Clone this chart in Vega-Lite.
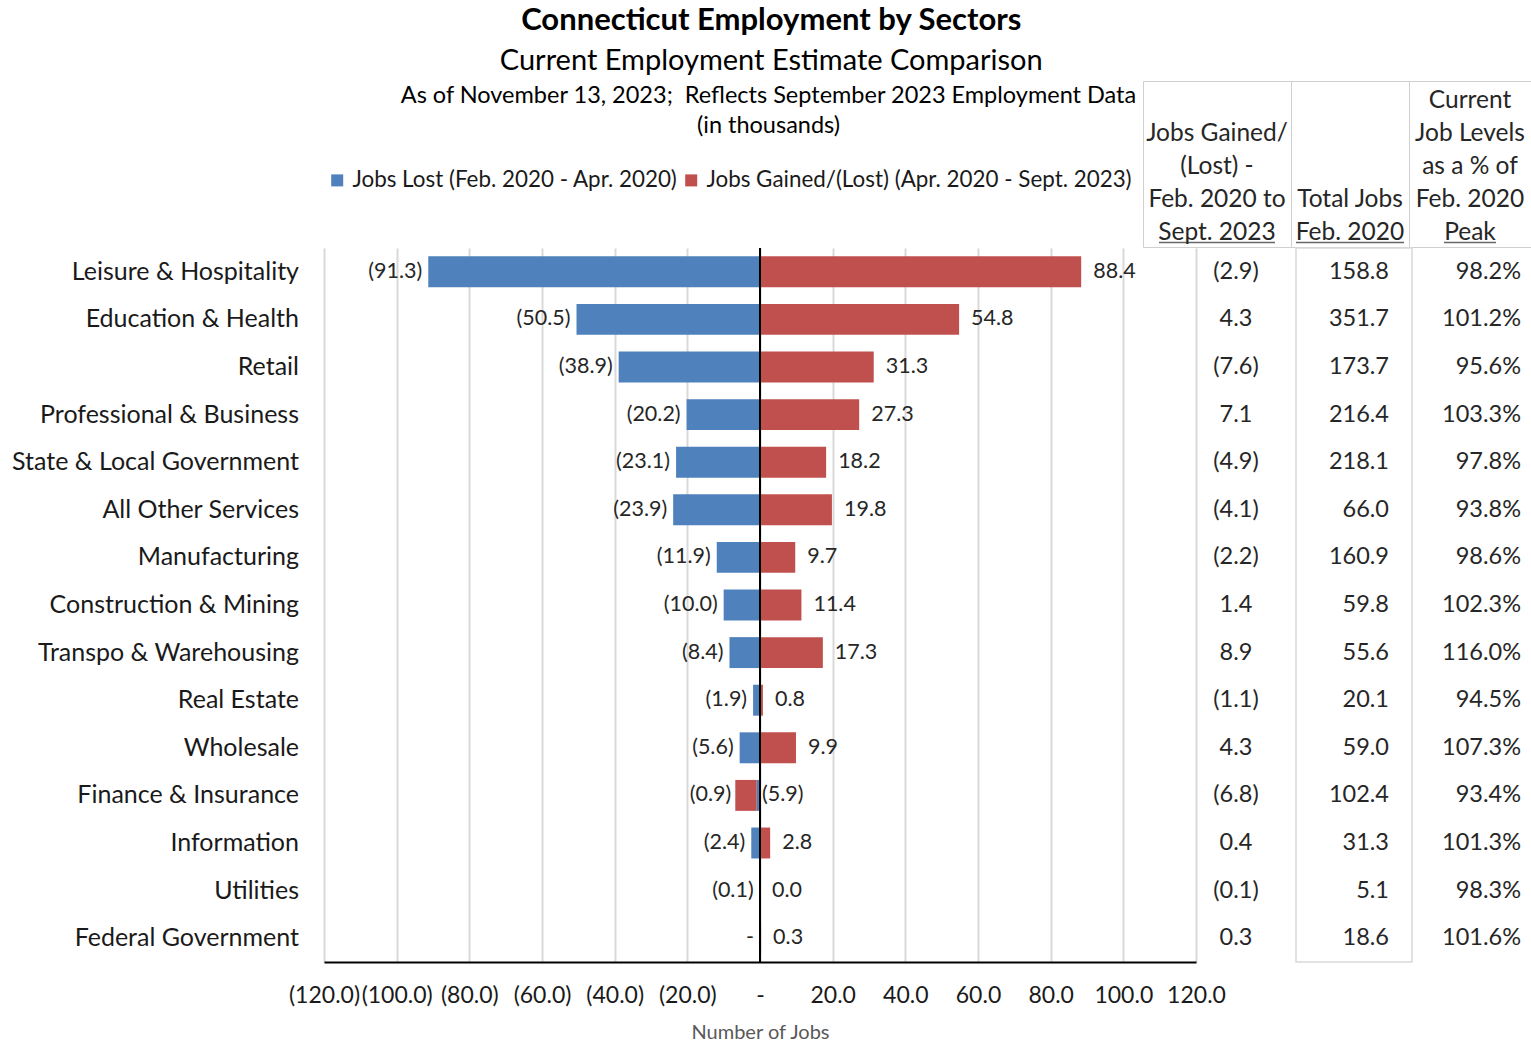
{
  "$schema": "https://vega.github.io/schema/vega-lite/v6.json",
  "background": "white",
  "padding": {"left": 11, "top": 5, "right": 0, "bottom": 0},
  "config": {
    "font": "Lato",
    "view": {"stroke": null},
    "text": {"font": "Lato", "color": "#262626"},
    "axis": {"labelFont": "Lato", "titleFont": "Lato"},
    "legend": {"labelFont": "Lato"},
    "title": {"font": "Lato", "subtitleFont": "Lato"}
  },
  "title": {
    "text": "Connecticut Employment by Sectors",
    "subtitle": "Current Employment Estimate Comparison",
    "fontSize": 31,
    "fontWeight": "bold",
    "color": "#000000",
    "subtitleFontSize": 29,
    "subtitleColor": "#000000",
    "subtitlePadding": 9.5,
    "anchor": "middle",
    "offset": 4
  },
  "datasets": {
    "sectors": [
      {"sector": "Leisure & Hospitality", "lost": -91.3, "gained": 88.4, "net": -2.9, "total": 158.8, "pct": 0.982},
      {"sector": "Education & Health", "lost": -50.5, "gained": 54.8, "net": 4.3, "total": 351.7, "pct": 1.012},
      {"sector": "Retail", "lost": -38.9, "gained": 31.3, "net": -7.6, "total": 173.7, "pct": 0.956},
      {"sector": "Professional & Business", "lost": -20.2, "gained": 27.3, "net": 7.1, "total": 216.4, "pct": 1.033},
      {"sector": "State & Local Government", "lost": -23.1, "gained": 18.2, "net": -4.9, "total": 218.1, "pct": 0.978},
      {"sector": "All Other Services", "lost": -23.9, "gained": 19.8, "net": -4.1, "total": 66.0, "pct": 0.938},
      {"sector": "Manufacturing", "lost": -11.9, "gained": 9.7, "net": -2.2, "total": 160.9, "pct": 0.986},
      {"sector": "Construction & Mining", "lost": -10.0, "gained": 11.4, "net": 1.4, "total": 59.8, "pct": 1.023},
      {"sector": "Transpo & Warehousing", "lost": -8.4, "gained": 17.3, "net": 8.9, "total": 55.6, "pct": 1.160},
      {"sector": "Real Estate", "lost": -1.9, "gained": 0.8, "net": -1.1, "total": 20.1, "pct": 0.945},
      {"sector": "Wholesale", "lost": -5.6, "gained": 9.9, "net": 4.3, "total": 59.0, "pct": 1.073},
      {"sector": "Finance & Insurance", "lost": -0.9, "gained": -5.9, "net": -6.8, "total": 102.4, "pct": 0.934},
      {"sector": "Information", "lost": -2.4, "gained": 2.8, "net": 0.4, "total": 31.3, "pct": 1.013},
      {"sector": "Utilities", "lost": -0.1, "gained": 0.0, "net": -0.1, "total": 5.1, "pct": 0.983},
      {"sector": "Federal Government", "lost": 0, "gained": 0.3, "net": 0.3, "total": 18.6, "pct": 1.016}
    ],
    "header": [
      {"col": "c1", "line": 2, "text": "Jobs Gained/"},
      {"col": "c1", "line": 3, "text": "(Lost) -"},
      {"col": "c1", "line": 4, "text": "Feb. 2020 to"},
      {"col": "c1", "line": 5, "text": "Sept. 2023"},
      {"col": "c2", "line": 4, "text": "Total Jobs"},
      {"col": "c2", "line": 5, "text": "Feb. 2020"},
      {"col": "c3", "line": 1, "text": "Current"},
      {"col": "c3", "line": 2, "text": "Job Levels"},
      {"col": "c3", "line": 3, "text": "as a % of"},
      {"col": "c3", "line": 4, "text": "Feb. 2020"},
      {"col": "c3", "line": 5, "text": "Peak"}
    ],
    "series": [
      {"series": "lost"},
      {"series": "gained"}
    ]
  },
  "resolve": {"scale": {"color": "independent"}, "legend": {"color": "independent"}},
  "bounds": "full",
  "spacing": -1,
  "vconcat": [
    {
      "hconcat": [
        {
          "width": 313,
          "height": 166,
          "data": {"values": []},
          "mark": {"type": "text"},
          "encoding": {"text": {"value": ""}}
        },
        {
          "width": 819,
          "height": 166,
          "data": {"name": "series"},
          "title": {
            "text": ["As of November 13, 2023;\u00a0 Reflects September 2023 Employment Data", "(in thousands)"],
            "fontSize": 23.5,
            "fontWeight": "normal",
            "lineHeight": 30,
            "color": "#000000",
            "anchor": "middle",
            "frame": "group",
            "dx": 35,
            "offset": -56
          },
          "mark": {"type": "square", "opacity": 0},
          "encoding": {
            "color": {
              "field": "series", "type": "nominal",
              "scale": {"domain": ["lost", "gained"], "range": ["#4F81BD", "#C0504D"]},
              "legend": {
                "orient": "bottom",
                "direction": "horizontal",
                "title": null,
                "labelExpr": "datum.label == 'lost' ? 'Jobs Lost (Feb. 2020 - Apr. 2020)' : 'Jobs Gained/(Lost) (Apr. 2020 - Sept. 2023)'",
                "labelFontSize": 22.4,
                "labelColor": "#1a1a1a",
                "labelLimit": 700,
                "symbolType": "square",
                "symbolSize": 144,
                "symbolOpacity": 1,
                "symbolStrokeWidth": 0,
                "labelOffset": 4,
                "columnPadding": 2,
                "padding": 2,
                "offset": -80
              }
            }
          }
        },
        {
          "width": 148,
          "height": 166,
          "view": {"stroke": "#d0d0d0", "strokeWidth": 1},
          "data": {"name": "header"},
          "transform": [{"filter": "datum.col == 'c1'"}],
          "encoding": {
            "y": {"field": "line", "type": "ordinal", "scale": {"domain": [1, 2, 3, 4, 5], "paddingInner": 0, "paddingOuter": 0}, "axis": null}
          },
          "layer": [
            {
              "mark": {"type": "text", "fontSize": 24.5, "baseline": "middle", "dy": 3},
              "encoding": {"text": {"field": "text"}}
            },
            {
              "transform": [{"filter": "datum.line == 5"}],
              "mark": {"type": "tick", "orient": "horizontal", "size": 116, "thickness": 1.5, "color": "#262626", "yOffset": 12}
            }
          ]
        },
        {
          "width": 118,
          "height": 166,
          "view": {"stroke": "#d0d0d0", "strokeWidth": 1},
          "data": {"name": "header"},
          "transform": [{"filter": "datum.col == 'c2'"}],
          "encoding": {
            "y": {"field": "line", "type": "ordinal", "scale": {"domain": [1, 2, 3, 4, 5], "paddingInner": 0, "paddingOuter": 0}, "axis": null}
          },
          "layer": [
            {
              "mark": {"type": "text", "fontSize": 24.5, "baseline": "middle", "dy": 3},
              "encoding": {"text": {"field": "text"}}
            },
            {
              "transform": [{"filter": "datum.line == 5"}],
              "mark": {"type": "tick", "orient": "horizontal", "size": 108, "thickness": 1.5, "color": "#262626", "yOffset": 12}
            }
          ]
        },
        {
          "width": 122,
          "height": 166,
          "view": {"stroke": "#d0d0d0", "strokeWidth": 1},
          "data": {"name": "header"},
          "transform": [{"filter": "datum.col == 'c3'"}],
          "encoding": {
            "y": {"field": "line", "type": "ordinal", "scale": {"domain": [1, 2, 3, 4, 5], "paddingInner": 0, "paddingOuter": 0}, "axis": null}
          },
          "layer": [
            {
              "mark": {"type": "text", "fontSize": 24.5, "baseline": "middle", "dy": 3},
              "encoding": {"text": {"field": "text"}}
            },
            {
              "transform": [{"filter": "datum.line == 5"}],
              "mark": {"type": "tick", "orient": "horizontal", "size": 52, "thickness": 1.5, "color": "#262626", "yOffset": 12}
            }
          ]
        }
      ],
      "bounds": "flush",
      "spacing": 0,
      "resolve": {"scale": {"color": "independent"}, "legend": {"color": "independent"}}
    },
    {
      "hconcat": [
        {
          "width": 313,
          "height": 714,
          "data": {"name": "sectors"},
          "mark": {"type": "text", "align": "right", "baseline": "middle", "fontSize": 25, "dx": -25, "color": "#1a1a1a"},
          "encoding": {
            "y": {"field": "sector", "type": "nominal", "sort": null, "scale": {"paddingInner": 0.35, "paddingOuter": 0.175}, "axis": null},
            "x": {"value": "width"},
            "text": {"field": "sector"}
          }
        },
        {
          "width": 872,
          "height": 714,
          "data": {"name": "sectors"},
          "layer": [
            {
              "transform": [{"fold": ["lost", "gained"], "as": ["series", "value"]}],
              "mark": {"type": "bar"},
              "encoding": {
                "y": {"field": "sector", "type": "nominal", "sort": null, "scale": {"paddingInner": 0.35, "paddingOuter": 0.175}, "axis": null},
                "x": {
                  "field": "value", "type": "quantitative",
                  "scale": {"domain": [-120, 120], "nice": false, "zero": false},
                  "axis": {
                    "values": [-120, -100, -80, -60, -40, -20, 0, 20, 40, 60, 80, 100, 120],
                    "labelExpr": "datum.value < 0 ? '(' + format(-datum.value, '.1f') + ')' : (datum.value == 0 ? '-' : format(datum.value, '.1f'))",
                    "labelFontSize": 23,
                    "labelColor": "#1a1a1a",
                    "labelOverlap": false,
                    "labelFlush": false,
                    "labelPadding": 22,
                    "ticks": false,
                    "domainColor": "#000000",
                    "domainWidth": 2,
                    "grid": true,
                    "gridColor": "#d9d9d9",
                    "gridWidth": 2,
                    "title": "Number of Jobs",
                    "titleFontSize": 20,
                    "titleFontWeight": "normal",
                    "titleColor": "#595959",
                    "titlePadding": 15
                  }
                },
                "color": {
                  "field": "series", "type": "nominal",
                  "scale": {"domain": ["lost", "gained"], "range": ["#4F81BD", "#C0504D"]},
                  "legend": null
                },
                "order": {"field": "series", "sort": "descending"}
              }
            },
            {
              "data": {"values": [{"zero": 0}]},
              "mark": {"type": "rule", "color": "#000000", "strokeWidth": 2},
              "encoding": {"x": {"field": "zero", "type": "quantitative"}}
            },
            {
              "transform": [{"filter": "datum.gained >= 0"}],
              "mark": {"type": "text", "align": "right", "baseline": "middle", "dx": -6, "fontSize": 21.5},
              "encoding": {
                "y": {"field": "sector", "type": "nominal", "sort": null},
                "x": {"field": "lost", "type": "quantitative"},
                "text": {"condition": {"test": "datum.lost == 0", "value": "-\u00a0\u00a0\u00a0\u00a0"}, "field": "lost", "format": "(.1f"}
              }
            },
            {
              "transform": [{"filter": "datum.gained < 0"}],
              "mark": {"type": "text", "align": "right", "baseline": "middle", "dx": -4, "fontSize": 21.5},
              "encoding": {
                "y": {"field": "sector", "type": "nominal", "sort": null},
                "x": {"field": "net", "type": "quantitative"},
                "text": {"field": "lost", "format": "(.1f"}
              }
            },
            {
              "transform": [{"filter": "datum.gained >= 0"}],
              "mark": {"type": "text", "align": "left", "baseline": "middle", "dx": 12, "fontSize": 21.5},
              "encoding": {
                "y": {"field": "sector", "type": "nominal", "sort": null},
                "x": {"field": "gained", "type": "quantitative"},
                "text": {"field": "gained", "format": "(.1f"}
              }
            },
            {
              "transform": [{"filter": "datum.gained < 0"}],
              "mark": {"type": "text", "align": "left", "baseline": "middle", "dx": 2, "fontSize": 21.5},
              "encoding": {
                "y": {"field": "sector", "type": "nominal", "sort": null},
                "x": {"datum": 0, "type": "quantitative"},
                "text": {"field": "gained", "format": "(.1f"}
              }
            }
          ]
        },
        {
          "width": 100,
          "height": 714,
          "data": {"name": "sectors"},
          "mark": {"type": "text", "fontSize": 23.5, "baseline": "middle", "dx": -10},
          "encoding": {
            "y": {"field": "sector", "type": "nominal", "sort": null, "scale": {"paddingInner": 0.35, "paddingOuter": 0.175}, "axis": null},
            "text": {"field": "net", "format": "(.1f"}
          }
        },
        {
          "width": 116,
          "height": 714,
          "view": {"stroke": "#d9d9d9", "strokeWidth": 1.5},
          "data": {"name": "sectors"},
          "mark": {"type": "text", "fontSize": 23.5, "baseline": "middle", "align": "right", "dx": -23},
          "encoding": {
            "y": {"field": "sector", "type": "nominal", "sort": null, "scale": {"paddingInner": 0.35, "paddingOuter": 0.175}, "axis": null},
            "x": {"value": "width"},
            "text": {"field": "total", "format": ".1f"}
          }
        },
        {
          "width": 119,
          "height": 714,
          "data": {"name": "sectors"},
          "mark": {"type": "text", "fontSize": 23.5, "baseline": "middle", "align": "right", "dx": -10},
          "encoding": {
            "y": {"field": "sector", "type": "nominal", "sort": null, "scale": {"paddingInner": 0.35, "paddingOuter": 0.175}, "axis": null},
            "x": {"value": "width"},
            "text": {"field": "pct", "format": ".1%"}
          }
        }
      ],
      "bounds": "flush",
      "spacing": 0
    }
  ]
}
